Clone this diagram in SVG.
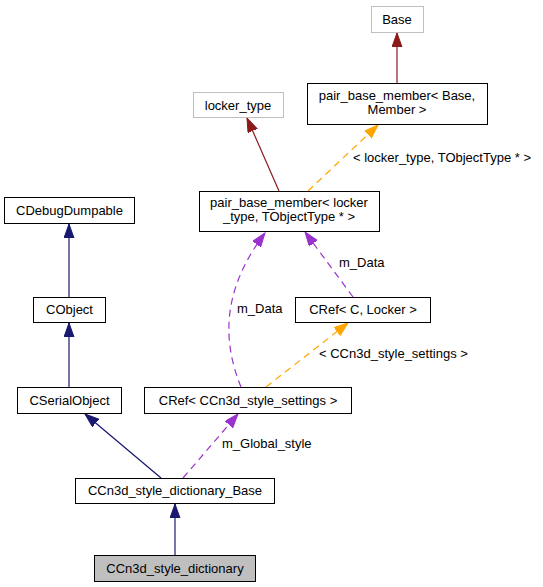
<svg xmlns="http://www.w3.org/2000/svg" width="543" height="587" viewBox="0 0 543 587">
<style>
text{font-family:"Liberation Sans",Arial,sans-serif;font-size:13px;fill:#000}
.n text{text-anchor:middle}
.box{fill:#fff;stroke:#000;stroke-width:1}
.gbox{fill:#fff;stroke:#bfbfbf;stroke-width:1}
.cur{fill:#bfbfbf;stroke:#000;stroke-width:1}
.e{fill:none;stroke-width:1.2}
.blue{stroke:#191970}
.red{stroke:#8b1a1a}
.purple{stroke:#9a32cd;stroke-dasharray:7,5}
.orange{stroke:#ffa500;stroke-dasharray:7,5}
</style>
<defs>
<marker id="ab" markerUnits="userSpaceOnUse" markerWidth="16" markerHeight="12" refX="14" refY="5" orient="auto"><path d="M0,0 L14,5 L0,10 z" fill="#191970" stroke="#191970"/></marker>
<marker id="ar" markerUnits="userSpaceOnUse" markerWidth="16" markerHeight="12" refX="14" refY="5" orient="auto"><path d="M0,0 L14,5 L0,10 z" fill="#8b1a1a" stroke="#8b1a1a"/></marker>
<marker id="ap" markerUnits="userSpaceOnUse" markerWidth="16" markerHeight="12" refX="14" refY="5" orient="auto"><path d="M0,0 L14,5 L0,10 z" fill="#9a32cd" stroke="#9a32cd"/></marker>
<marker id="ao" markerUnits="userSpaceOnUse" markerWidth="16" markerHeight="12" refX="14" refY="5" orient="auto"><path d="M0,0 L14,5 L0,10 z" fill="#ffa500" stroke="#ffa500"/></marker>
</defs>
<g id="edges">
<path class="e red" d="M397,83 L397,33" marker-end="url(#ar)"/>
<path class="e red" d="M279,191 L247,118" marker-end="url(#ar)"/>
<path class="e orange" d="M308,191 L378,125" marker-end="url(#ao)"/>
<text x="353" y="162">&lt; locker_type, TObjectType * &gt;</text>
<path class="e blue" d="M69,297 L69,224" marker-end="url(#ab)"/>
<path class="e blue" d="M69,387 L69,323" marker-end="url(#ab)"/>
<path class="e purple" d="M241,387 C222,340 222,290 265,233" marker-end="url(#ap)"/>
<text x="237" y="313">m_Data</text>
<path class="e purple" d="M353,297 L305,232" marker-end="url(#ap)"/>
<text x="339" y="267">m_Data</text>
<path class="e orange" d="M266,387 L348,323" marker-end="url(#ao)"/>
<text x="319" y="358">&lt; CCn3d_style_settings &gt;</text>
<path class="e blue" d="M161,478 L85,414" marker-end="url(#ab)"/>
<path class="e purple" d="M183,478 L238,414" marker-end="url(#ap)"/>
<text x="222" y="448">m_Global_style</text>
<path class="e blue" d="M175,555 L175,504" marker-end="url(#ab)"/>
</g>
<g id="n_base" class="n"><rect class="gbox" x="371.5" y="6.5" width="52" height="26"/><text x="397" y="24">Base</text></g>
<g id="n_locker_type" class="n"><rect class="gbox" x="193.5" y="92.5" width="90" height="25"/><text x="238" y="110">locker_type</text></g>
<g id="n_pbm_base" class="n"><rect class="box" x="307.5" y="83.5" width="180" height="41"/><text x="397" y="100">pair_base_member&lt; Base,</text><text x="397" y="114">Member &gt;</text></g>
<g id="n_pbm_locker" class="n"><rect class="box" x="199.5" y="191.5" width="180" height="40"/><text x="289" y="207">pair_base_member&lt; locker</text><text x="289" y="221">_type, TObjectType * &gt;</text></g>
<g id="n_cdebugdumpable" class="n"><rect class="box" x="4.5" y="197.5" width="130" height="26"/><text x="69.5" y="215">CDebugDumpable</text></g>
<g id="n_cobject" class="n"><rect class="box" x="33.5" y="297.5" width="72" height="25"/><text x="69.5" y="314">CObject</text></g>
<g id="n_cref_c_locker" class="n"><rect class="box" x="295.5" y="297.5" width="135" height="25"/><text x="363" y="314">CRef&lt; C, Locker &gt;</text></g>
<g id="n_cserialobject" class="n"><rect class="box" x="17.5" y="387.5" width="104" height="26"/><text x="69.5" y="405">CSerialObject</text></g>
<g id="n_cref_settings" class="n"><rect class="box" x="144.5" y="387.5" width="207" height="26"/><text x="248" y="405">CRef&lt; CCn3d_style_settings &gt;</text></g>
<g id="n_dict_base" class="n"><rect class="box" x="75.5" y="478.5" width="199" height="25"/><text x="175" y="495">CCn3d_style_dictionary_Base</text></g>
<g id="n_dict" class="n"><rect class="cur" x="94.5" y="555.5" width="161" height="26"/><text x="175" y="573">CCn3d_style_dictionary</text></g>
</svg>
